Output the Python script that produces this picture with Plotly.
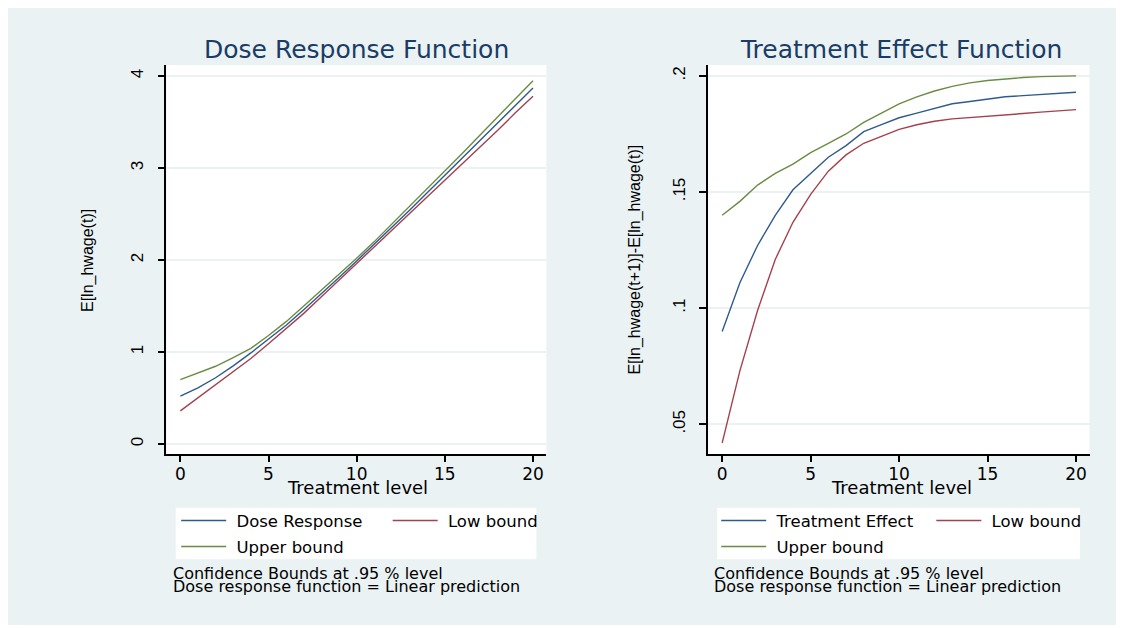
import plotly.graph_objects as go

# ---------------- data ----------------
treatment = list(range(0, 21))

dose_response = [0.52, 0.61, 0.72, 0.85, 0.99, 1.14, 1.29, 1.46, 1.63, 1.81, 1.99,
                 2.17, 2.35, 2.54, 2.73, 2.92, 3.11, 3.30, 3.49, 3.68, 3.87]
dose_low = [0.36, 0.50, 0.64, 0.78, 0.93, 1.09, 1.25, 1.42, 1.60, 1.78, 1.96,
            2.14, 2.32, 2.50, 2.68, 2.86, 3.05, 3.23, 3.41, 3.60, 3.78]
dose_up = [0.70, 0.77, 0.845, 0.94, 1.04, 1.18, 1.33, 1.50, 1.67, 1.84, 2.02,
           2.20, 2.39, 2.58, 2.77, 2.97, 3.16, 3.36, 3.56, 3.75, 3.95]

effect = [0.090, 0.111, 0.127, 0.140, 0.151, 0.158, 0.165, 0.170, 0.176, 0.179, 0.182,
          0.184, 0.186, 0.188, 0.189, 0.190, 0.191, 0.1915, 0.192, 0.1927, 0.193]
effect_low = [0.042, 0.073, 0.099, 0.121, 0.137, 0.149, 0.159, 0.166, 0.171, 0.174, 0.177,
              0.179, 0.1805, 0.1815, 0.182, 0.1826, 0.1832, 0.1838, 0.1844, 0.185, 0.1855]
effect_up = [0.140, 0.146, 0.153, 0.158, 0.162, 0.167, 0.171, 0.175, 0.180, 0.184, 0.188,
             0.191, 0.1935, 0.1955, 0.197, 0.198, 0.1987, 0.1993, 0.1997, 0.200, 0.200]

x_ticks = [0, 5, 10, 15, 20]
y1_ticks = [0, 1, 2, 3, 4]
y1_labels = ["0", "1", "2", "3", "4"]
y2_ticks = [0.05, 0.10, 0.15, 0.20]
y2_labels = [".05", ".1", ".15", ".2"]

# ---------------- styling ----------------
W, H = 1124, 628
OFF = 8  # page body margin offset
BLUE, RED, GREEN = "#2f5b8c", "#a4414e", "#6a8c42"
PANEL = "#eaf2f3"
TITLE_COL = "#1a3c66"
HFONT = "DejaVu Sans"
VFONT = "Liberation Sans, Arial"
NB = "\u00a0"
LW = 1.4


def px(x):
    return (x - OFF) / W


def py(y):
    return 1 - (y - OFF) / H


fig = go.Figure()

# left panel traces
fig.add_trace(go.Scatter(x=treatment, y=dose_response, mode="lines", name=NB + "Dose Response",
                         line=dict(color=BLUE, width=LW), xaxis="x", yaxis="y", legend="legend"))
fig.add_trace(go.Scatter(x=treatment, y=dose_low, mode="lines", name=NB + "Low bound",
                         line=dict(color=RED, width=LW), xaxis="x", yaxis="y", legend="legend2"))
fig.add_trace(go.Scatter(x=treatment, y=dose_up, mode="lines", name=NB + "Upper bound",
                         line=dict(color=GREEN, width=LW), xaxis="x", yaxis="y", legend="legend3"))
# right panel traces
fig.add_trace(go.Scatter(x=treatment, y=effect, mode="lines", name=NB + "Treatment Effect",
                         line=dict(color=BLUE, width=LW), xaxis="x2", yaxis="y2", legend="legend4"))
fig.add_trace(go.Scatter(x=treatment, y=effect_low, mode="lines", name=NB + "Low bound",
                         line=dict(color=RED, width=LW), xaxis="x2", yaxis="y2", legend="legend5"))
fig.add_trace(go.Scatter(x=treatment, y=effect_up, mode="lines", name=NB + "Upper bound",
                         line=dict(color=GREEN, width=LW), xaxis="x2", yaxis="y2", legend="legend6"))

xcommon = dict(range=[-0.79, 20.76], tickmode="array", tickvals=x_ticks,
               ticks="outside", ticklen=6, tickwidth=1.5, tickcolor="#000",
               showline=True, linecolor="#000", linewidth=1.5,
               showgrid=False, zeroline=False,
               tickfont=dict(family=HFONT, size=17, color="#000"),
               ticklabelstandoff=-2, fixedrange=True)
ycommon = dict(tickmode="array", ticks="outside", ticklen=7, tickwidth=1.5, tickcolor="#000",
               showline=True, linecolor="#000", linewidth=1.5,
               showgrid=True, gridcolor=PANEL, gridwidth=1.5, zeroline=False,
               tickangle=-90, tickfont=dict(family=VFONT, size=17, color="#000"),
               ticklabelstandoff=8, fixedrange=True)

ydom = [py(454.3), py(65)]
fig.update_layout(
    xaxis=dict(domain=[px(166.4), px(546.4)], anchor="y", **xcommon),
    yaxis=dict(domain=ydom, anchor="x", range=[-0.112, 4.12],
               tickvals=y1_ticks, ticktext=y1_labels, **ycommon),
    xaxis2=dict(domain=[px(708.2), px(1089.5)], anchor="y2", **xcommon),
    yaxis2=dict(domain=ydom, anchor="x2", range=[0.0371, 0.2047],
                tickvals=y2_ticks, ticktext=y2_labels, **ycommon),
)

legend_common = dict(orientation="h", bgcolor="rgba(0,0,0,0)", borderwidth=0,
                     font=dict(family=HFONT, size=16.5, color="#000"),
                     xanchor="left", yanchor="middle", itemwidth=45,
                     itemclick=False, itemdoubleclick=False)
fig.update_layout(
    legend=dict(x=px(176.2), y=py(520.7), **legend_common),
    legend2=dict(x=px(387.7), y=py(520.7), **legend_common),
    legend3=dict(x=px(176.2), y=py(546.7), **legend_common),
    legend4=dict(x=px(716.2), y=py(520.7), **legend_common),
    legend5=dict(x=px(931.3), y=py(520.7), **legend_common),
    legend6=dict(x=px(716.2), y=py(546.7), **legend_common),
)

shapes = [
    dict(type="rect", xref="paper", yref="paper", x0=px(7), x1=px(1117), y0=py(625), y1=py(5),
         fillcolor=PANEL, line=dict(width=0), layer="below"),
    dict(type="rect", xref="paper", yref="paper", x0=px(166.4), x1=px(546.4), y0=py(454.3), y1=py(65),
         fillcolor="#ffffff", line=dict(width=0), layer="below"),
    dict(type="rect", xref="paper", yref="paper", x0=px(708.2), x1=px(1089.5), y0=py(454.3), y1=py(65),
         fillcolor="#ffffff", line=dict(width=0), layer="below"),
    dict(type="rect", xref="paper", yref="paper", x0=px(175.7), x1=px(536.4), y0=py(559.3), y1=py(507.7),
         fillcolor="#ffffff", line=dict(width=0), layer="below"),
    dict(type="rect", xref="paper", yref="paper", x0=px(717.2), x1=px(1080), y0=py(559.3), y1=py(507.7),
         fillcolor="#ffffff", line=dict(width=0), layer="below"),
]

annotations = [
    dict(text="Dose Response Function", x=px(356), y=py(50), font=dict(family=HFONT, size=25, color=TITLE_COL)),
    dict(text="Treatment Effect Function", x=px(900.5), y=py(50), font=dict(family=HFONT, size=25, color=TITLE_COL)),
    dict(text="Treatment level", x=px(357.7), y=py(487), font=dict(family=HFONT, size=18, color="#000")),
    dict(text="Treatment level", x=px(901.4), y=py(487), font=dict(family=HFONT, size=18, color="#000")),
    dict(text="E[ln_hwage(t)]", x=px(87.5), y=py(260.5), textangle=-90,
         font=dict(family=VFONT, size=16, color="#000")),
    dict(text="E[ln_hwage(t+1)]-E[ln_hwage(t)]", x=px(634.6), y=py(260), textangle=-90,
         font=dict(family=VFONT, size=16, color="#000")),
    dict(text="Confidence Bounds at .95 % level", x=px(170.7), y=py(573.3), xanchor="left",
         font=dict(family=HFONT, size=16, color="#000")),
    dict(text="Dose response function = Linear prediction", x=px(170.7), y=py(586.9), xanchor="left",
         font=dict(family=HFONT, size=16, color="#000")),
    dict(text="Confidence Bounds at .95 % level", x=px(711.8), y=py(573.3), xanchor="left",
         font=dict(family=HFONT, size=16, color="#000")),
    dict(text="Dose response function = Linear prediction", x=px(711.8), y=py(586.9), xanchor="left",
         font=dict(family=HFONT, size=16, color="#000")),
]
for a in annotations:
    a.setdefault("xanchor", "center")
    a.update(xref="paper", yref="paper", yanchor="middle", showarrow=False)

fig.update_layout(
    width=W, height=H, autosize=False, margin=dict(l=0, r=0, t=0, b=0),
    paper_bgcolor="#ffffff", plot_bgcolor="#ffffff",
    shapes=shapes, annotations=annotations, showlegend=True,
)

fig.write_html("out.html", config={"displayModeBar": False, "responsive": False})
